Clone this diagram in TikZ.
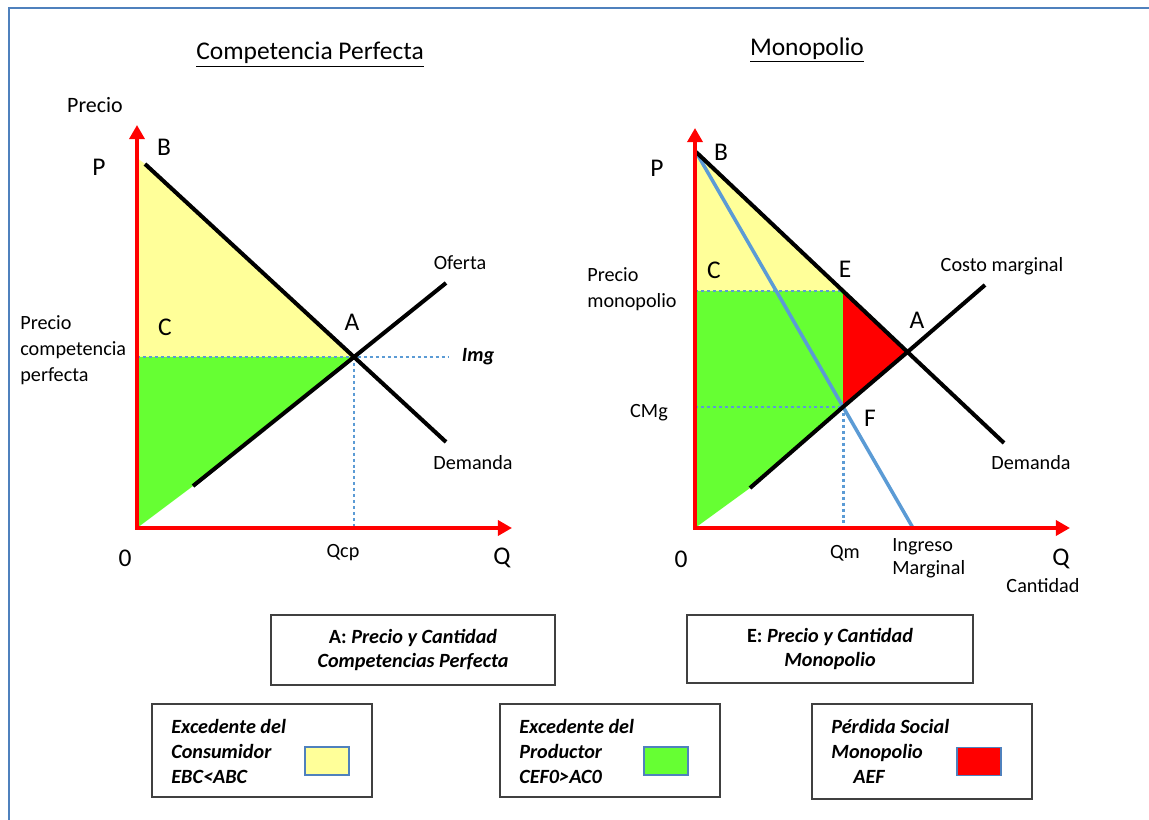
\documentclass[tikz,border=0pt]{standalone}
\usepackage{fontspec}
\setmainfont{Carlito}
\usetikzlibrary{arrows.meta}
\definecolor{bordeblue}{HTML}{4F81BD}
\definecolor{mrblue}{HTML}{5B9BD5}
\definecolor{dotblue}{HTML}{5B9BD5}
\definecolor{yel}{HTML}{FFFF99}
\definecolor{grn}{HTML}{66FF33}
\definecolor{axred}{HTML}{FF0000}
\definecolor{boxgray}{HTML}{404040}
\tikzset{
  axis/.style={draw=axred, line width=2.3pt, line join=miter, {Triangle[length=8pt,width=8.5pt]}-{Triangle[length=8pt,width=8.5pt]}},
  curve/.style={draw=black, line width=2.3pt},
  mr/.style={draw=mrblue, line width=2pt},
  guide/.style={draw=dotblue, line width=1.7pt, dash pattern=on 1.7pt off 1.7pt},
  lbl/.style={inner sep=0pt, font=\fontsize{11.5}{14.5}\selectfont},
  big/.style={inner sep=0pt, font=\fontsize{14.5}{17}\selectfont},
  ttl/.style={inner sep=0pt, font=\fontsize{14.5}{17}\selectfont},
  infobox/.style={draw=boxgray, line width=0.8pt, align=center, inner sep=0pt,
    font=\fontsize{11.5}{14.2}\selectfont\bfseries\itshape},
  legbox/.style={draw=boxgray, line width=0.8pt, inner sep=0pt, minimum width=4.4cm},
  legtext/.style={anchor=west, align=left, inner sep=0pt,
    font=\fontsize{11.5}{14.2}\selectfont\bfseries\itshape},
  swatch/.style={draw=bordeblue, line width=1pt, minimum width=0.88cm, minimum height=0.56cm, inner sep=0pt},
}
\begin{document}
\begin{tikzpicture}[x=0.02cm,y=-0.02cm]
\useasboundingbox (0,0) rectangle (1149,820);
% frame (top and left lines)
\coordinate (frTR) at (1149,8);
\coordinate (frTL) at (9,8);
\coordinate (frBL) at (9,820);
\draw[bordeblue, line width=1.4pt] (frTR) -- (frTL) -- (frBL);

% ================= LEFT GRAPH =================
\coordinate (LO) at (137,528);
\coordinate (LYtop) at (137,125);
\coordinate (LXend) at (512,528);
\coordinate (LDtop) at (145,164);
\coordinate (LYd) at (137,158);
\coordinate (LA) at (354,357);
\coordinate (LD2) at (446,442);
\coordinate (LS1) at (193,486);
\coordinate (LS2) at (446,283);
\coordinate (LPa) at (137,357);
\coordinate (LImg) at (448,357);
\coordinate (LQ) at (354,528);

\fill[yel] (LYd) -- (LDtop) -- (LA) -- (LPa) -- cycle;
\fill[grn] (LPa) -- (LA) -- (LS1) -- (LO) -- cycle;
\draw[guide] (LPa) -- (LImg);
\draw[guide] (LA) -- (LQ);
\draw[curve] (LDtop) -- (LA) -- (LD2);
\draw[curve] (LS1) -- (LA) -- (LS2);
\draw[axis] (LYtop) -- (LO) -- (LXend);

\node[ttl] (tcp) at (310,55) {\underline{Competencia Perfecta}};
\node[lbl, font=\fontsize{12.5}{15}\selectfont] (lprecio) at (95,105) {Precio};
\node[big] (lP) at (99,167) {P};
\node[big] (lB) at (164,147) {B};
\node[big] (lC) at (165,327) {C};
\node[big] (lAl) at (352,322) {A};
\node[lbl] (loferta) at (460,263) {Oferta};
\node[lbl] (ldemanda) at (473,463) {Demanda};
\node[lbl, font=\fontsize{11.5}{14.5}\selectfont\bfseries\itshape] (limg) at (478,357) {Img};
\node[lbl, anchor=west, align=left, font=\fontsize{11.5}{14.7}\selectfont] (lpcp) at (20,350) {Precio\\competencia\\perfecta};
\node[big] (l0) at (125,558) {0};
\node[lbl] (lqcp) at (343,553) {Qcp};
\node[big] (lQ) at (502,558) {Q};

% ================= RIGHT GRAPH =================
\coordinate (RO) at (695,528);
\coordinate (RYtop) at (695,128);
\coordinate (RXend) at (1070,528);
\coordinate (RB) at (696,152);
\coordinate (RE) at (843,291);
\coordinate (RA) at (907.5,352);
\coordinate (RD2) at (1004,443);
\coordinate (RS1) at (750,488);
\coordinate (RS2) at (985,285);
\coordinate (RF) at (843,407);
\coordinate (RMR) at (913,528);
\coordinate (RPm) at (695,291);
\coordinate (RPc) at (695,407);
\coordinate (RQm) at (843,528);

\fill[yel] (RB) -- (RE) -- (RPm) -- cycle;
\fill[grn] (RPm) -- (RE) -- (RF) -- (RS1) -- (RO) -- cycle;
\fill[axred] (RE) -- (RA) -- (RF) -- cycle;
\draw[guide] (RPm) -- (RE);
\draw[guide] (RPc) -- (RF);
\draw[guide] (RF) -- (RQm);
\draw[mr] (RB) -- (RMR);
\draw[curve] (RB) -- (RE) -- (RA) -- (RD2);
\draw[curve] (RS1) -- (RF) -- (RA) -- (RS2);
\draw[axis] (RYtop) -- (RO) -- (RXend);

\node[ttl] (tmono) at (807,50) {\underline{Monopolio}};
\node[big] (rP) at (657,168) {P};
\node[big] (rB) at (721,152) {B};
\node[big] (rC) at (714,270) {C};
\node[big] (rEl) at (845,269) {E};
\node[big] (rAl) at (917,320) {A};
\node[big] (rFl) at (870,418) {F};
\node[lbl] (rcm) at (1002,266) {Costo marginal};
\node[lbl] (rdem) at (1031,463) {Demanda};
\node[lbl, anchor=west, align=left, font=\fontsize{11.5}{15}\selectfont] (rpm) at (587,289) {Precio\\monopolio};
\node[lbl] (rcmg) at (649,413) {CMg};
\node[big] (r0) at (681,559) {0};
\node[lbl] (rqm) at (845,553) {Qm};
\node[lbl, anchor=west, align=left, font=\fontsize{11.5}{13}\selectfont] (rim) at (892,558) {Ingreso\\Marginal};
\node[big] (rQ) at (1061,559) {Q};
\node[lbl] (rcant) at (1043,586) {Cantidad};

% ================= BOXES =================
\node[infobox, minimum width=5.68cm, minimum height=1.40cm] (boxA) at (413,650)
  {{\upshape A:} Precio y Cantidad\\Competencias Perfecta};
\node[infobox, minimum width=5.72cm, minimum height=1.36cm] (boxE) at (830,649)
  {{\upshape E:} Precio y Cantidad\\Monopolio};

\node[legbox, minimum height=1.86cm] (boxEC) at (262,750.5) {};
\node[legtext] (txtEC) at (171,751.5) {Excedente del\\Consumidor\\EBC<ABC};
\node[swatch, fill=yel] (swEC) at (327,761) {};

\node[legbox, minimum height=1.86cm] (boxEP) at (610,750.5) {};
\node[legtext] (txtEP) at (519,751.5) {Excedente del\\Productor\\CEF0>AC0};
\node[swatch, fill=grn] (swEP) at (666,761) {};

\node[legbox, minimum height=1.90cm] (boxPS) at (922,751.5) {};
\node[legtext] (txtPS) at (831,751) {Pérdida Social\\Monopolio\\\hspace*{12.5pt}AEF};
\node[swatch, fill=axred] (swPS) at (979,761.5) {};
\end{tikzpicture}
\end{document}
